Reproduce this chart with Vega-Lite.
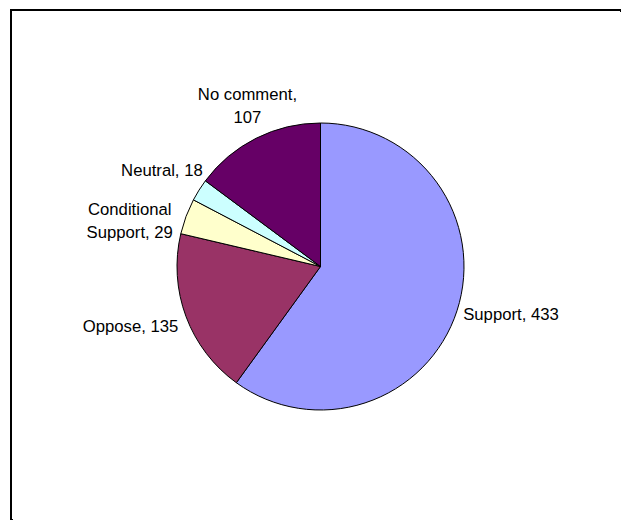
{
  "$schema": "https://vega.github.io/schema/vega-lite/v6.json",
  "width": 610,
  "height": 510,
  "autosize": "none",
  "padding": {"left": 11, "top": 10, "right": 0, "bottom": 0},
  "background": "white",
  "view": {"stroke": "#000000", "strokeWidth": 2, "fill": "white", "strokeDash": [612, 1116, 512]},
  "config": {
    "text": {"font": "Liberation Sans", "fontSize": 16.7, "fill": "#000000"}
  },
  "data": {
    "values": [
      {"category": "Support", "value": 433, "order": 1, "label": "Support, 433"},
      {"category": "Oppose", "value": 135, "order": 2, "label": "Oppose, 135"},
      {"category": "Conditional Support", "value": 29, "order": 3, "label": "Conditional\nSupport, 29"},
      {"category": "Neutral", "value": 18, "order": 4, "label": "Neutral, 18"},
      {"category": "No comment", "value": 107, "order": 5, "label": "No comment,\n107"}
    ]
  },
  "encoding": {
    "theta": {"field": "value", "type": "quantitative", "stack": true},
    "order": {"field": "order", "type": "quantitative"}
  },
  "layer": [
    {
      "mark": {"type": "arc", "radius": 143.5, "stroke": "#000000", "strokeWidth": 1, "xOffset": 4.5, "yOffset": 1.5},
      "encoding": {
        "color": {
          "field": "category",
          "type": "nominal",
          "scale": {
            "domain": ["Support", "Oppose", "Conditional Support", "Neutral", "No comment"],
            "range": ["#9999FF", "#993366", "#FFFFCC", "#CCFFFF", "#660066"]
          },
          "legend": null
        }
      }
    },
    {
      "mark": {"type": "text", "radius": 150, "align": "left", "baseline": "middle", "dx": 4.5, "dy": 3.5, "lineBreak": "\n", "lineHeight": 22.5},
      "encoding": {"text": {"field": "label", "condition": {"test": "datum.category !== 'Support'", "value": ""}}}
    },
    {
      "mark": {"type": "text", "radius": 150, "align": "right", "baseline": "middle", "dx": 2.9, "dy": 9.3, "lineBreak": "\n", "lineHeight": 22.5},
      "encoding": {"text": {"field": "label", "condition": {"test": "datum.category !== 'Oppose'", "value": ""}}}
    },
    {
      "mark": {"type": "text", "radius": 150, "align": "center", "baseline": "middle", "dx": -45.7, "dy": -2.3, "lineBreak": "\n", "lineHeight": 22.5},
      "encoding": {"text": {"field": "label", "condition": {"test": "datum.category !== 'Conditional Support'", "value": ""}}}
    },
    {
      "mark": {"type": "text", "radius": 150, "align": "right", "baseline": "middle", "dx": 13.7, "dy": -13.7, "lineBreak": "\n", "lineHeight": 22.5},
      "encoding": {"text": {"field": "label", "condition": {"test": "datum.category !== 'Neutral'", "value": ""}}}
    },
    {
      "mark": {"type": "text", "radius": 150, "align": "center", "baseline": "middle", "dx": -1.2, "dy": -35.5, "lineBreak": "\n", "lineHeight": 22.5},
      "encoding": {"text": {"field": "label", "condition": {"test": "datum.category !== 'No comment'", "value": ""}}}
    }
  ]
}
